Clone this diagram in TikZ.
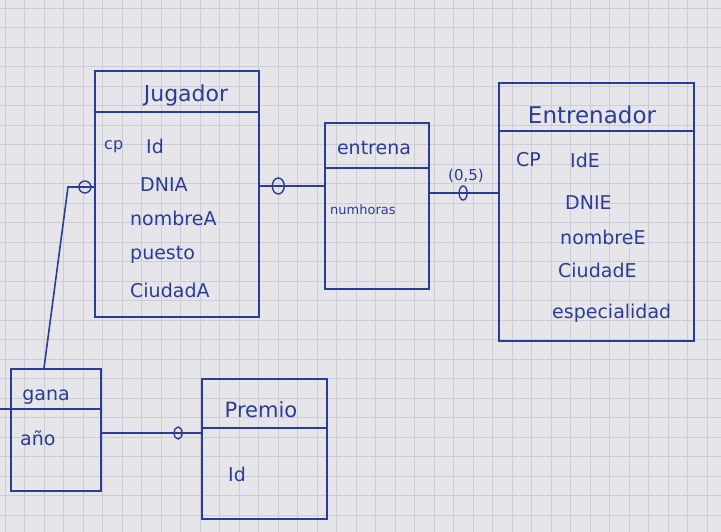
\documentclass[tikz,border=0pt]{standalone}
\usepackage{fontspec}
\setmainfont{DejaVu Sans}
\usetikzlibrary{shapes.geometric}
\definecolor{ink}{HTML}{2B3C96}
\definecolor{paper}{HTML}{E6E6EA}
\definecolor{gridc}{HTML}{CBCCD5}
\begin{document}
\begin{tikzpicture}[x=1pt,y=-1pt,
  box/.style={draw=ink,line width=1.6pt,rectangle,inner sep=0pt,anchor=north west},
  ttl/.style={text=ink,inner sep=0pt,font=\fontsize{22}{22}\selectfont},
  attr/.style={text=ink,anchor=west,inner sep=0pt,font=\fontsize{19}{19}\selectfont},
  conn/.style={draw=ink,line width=1.6pt},
  ring/.style={ellipse,draw=ink,line width=1.4pt,inner sep=0pt,minimum width=10pt,minimum height=14pt}]
\useasboundingbox (0,0) rectangle (721,532);
\fill[paper] (0,0) rectangle (721,532);
\foreach \i in {0,...,37} \draw[gridc,line width=0.6pt] (\i*19.5+5,0) -- (\i*19.5+5,532);
\foreach \j in {0,...,27} \draw[gridc,line width=0.6pt] (0,\j*19.5+8) -- (721,\j*19.5+8);

% Jugador
\node[box,minimum width=164pt,minimum height=246pt] (jug) at (94,70) {};
\draw[conn] (jug.west |- 0,112) -- (jug.east |- 0,112);
\node[ttl] (jugt) at (186,95) {Jugador};
\node[attr,font=\fontsize{16}{16}\selectfont] (jcp) at (104,147) {cp};
\node[attr] (jid) at (146,146) {Id};
\node[attr] (jdni) at (140,185) {DNIA};
\node[attr] (jnom) at (130,218) {nombreA};
\node[attr] (jpue) at (130,255) {puesto};
\node[attr] (jciu) at (130,290) {CiudadA};

% entrena
\node[box,minimum width=104pt,minimum height=166pt] (ent) at (324,122) {};
\draw[conn] (ent.west |- 0,168) -- (ent.east |- 0,168);
\node[ttl,font=\fontsize{19}{19}\selectfont] (entt) at (374,148) {entrena};
\node[attr,font=\fontsize{13}{13}\selectfont] (enum) at (330,210) {numhoras};

% Entrenador
\node[box,minimum width=195pt,minimum height=258pt] (entr) at (498,82) {};
\draw[conn] (entr.west |- 0,131) -- (entr.east |- 0,131);
\node[ttl,font=\fontsize{23}{23}\selectfont] (entrt) at (592,115) {Entrenador};
\node[attr] (ecp) at (516,160) {CP};
\node[attr] (eid) at (570,160) {IdE};
\node[attr] (edni) at (565,203) {DNIE};
\node[attr] (enom) at (560,237) {nombreE};
\node[attr] (eciu) at (558,270) {CiudadE};
\node[attr] (eesp) at (552,313) {especialidad};

% gana
\node[box,minimum width=90pt,minimum height=122pt] (gana) at (10,368) {};
\draw[conn] (0,409) -- (gana.east |- 0,409);
\node[ttl,font=\fontsize{19}{19}\selectfont] (ganat) at (46,397) {gana};
\node[attr] (gano) at (20,438) {año};

% Premio
\node[box,minimum width=125pt,minimum height=140pt] (prem) at (201,378) {};
\draw[conn] (prem.west |- 0,428) -- (prem.east |- 0,428);
\node[ttl,font=\fontsize{21}{21}\selectfont] (premt) at (261,410) {Premio};
\node[attr] (pid) at (228,474) {Id};

% connectors
\draw[conn] (jug.east |- 0,186) -- node[ring,pos=0.29,minimum width=12pt,minimum height=16pt] (r1) {} (ent.west |- 0,186);
\draw[conn] (jug.west |- 0,187) -- node[ring,pos=0.35,minimum width=12pt,minimum height=12pt] (r2) {} (68,187) -- (44,0 |- gana.north);
\draw[conn] (ent.east |- 0,193) -- node[ring,pos=0.49,minimum width=8pt,minimum height=14pt] (r3) {} (entr.west |- 0,193);
\node[text=ink,inner sep=0pt,font=\fontsize{15}{15}\selectfont] (card) at (466,176) {(0,5)};
\draw[conn] (gana.east |- 0,433) -- node[ring,pos=0.77,minimum width=8pt,minimum height=12pt] (r4) {} (prem.west |- 0,433);
\end{tikzpicture}
\end{document}
